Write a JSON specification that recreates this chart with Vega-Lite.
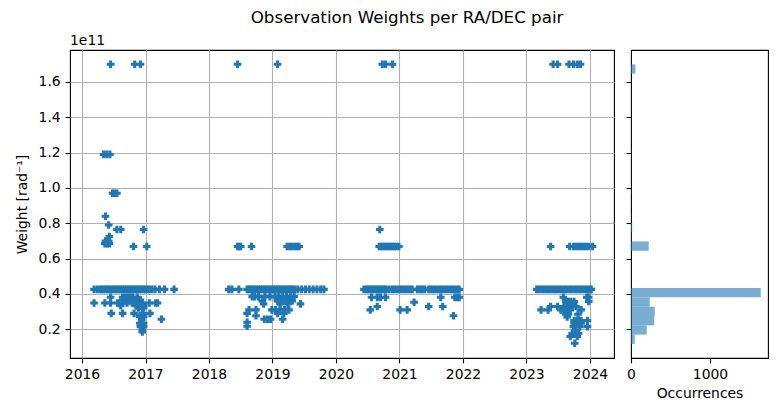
{
  "$schema": "https://vega.github.io/schema/vega-lite/v6.json",
  "background": "white",
  "padding": {"left": 14, "top": 9, "right": 5, "bottom": 5},
  "title": {"text": "Observation Weights per RA/DEC pair", "font": "DejaVu Sans", "fontSize": 16.7, "fontWeight": "normal", "color": "black", "anchor": "middle", "dx": 15.5, "baseline": "alphabetic", "offset": -6},
  "config": {
    "font": "DejaVu Sans",
    "view": {"stroke": "black", "strokeWidth": 1.1},
    "axis": {"labelFont": "DejaVu Sans", "labelFontSize": 13.9, "labelColor": "black", "tickColor": "black", "tickSize": 4.9, "tickWidth": 1.1, "labelPadding": 4.9, "domain": false, "gridColor": "#b0b0b0", "gridWidth": 1.1, "gridOpacity": 1, "titleFont": "DejaVu Sans", "titleFontSize": 13.9, "titleFontWeight": "normal", "titleColor": "black", "labelFlush": false, "labelOverlap": false}
  },
  "bounds": "flush",
  "spacing": 17,
  "datasets": {
    "pts": [
      {"t":2016.45,"w":1.70e11},{"t":2016.83,"w":1.70e11},{"t":2016.92,"w":1.70e11},
      {"t":2016.34,"w":1.19e11},{"t":2016.39,"w":1.19e11},{"t":2016.44,"w":1.19e11},
      {"t":2016.48,"w":0.97e11},{"t":2016.51,"w":0.97e11},{"t":2016.55,"w":0.97e11},
      {"t":2016.37,"w":0.84e11},{"t":2016.42,"w":0.79e11},
      {"t":2016.55,"w":0.765e11},{"t":2016.61,"w":0.765e11},{"t":2016.97,"w":0.765e11},
      {"t":2016.43,"w":0.725e11},{"t":2016.37,"w":0.70e11},{"t":2016.42,"w":0.70e11},
      {"t":2016.36,"w":0.685e11},{"t":2016.40,"w":0.685e11},{"t":2016.43,"w":0.685e11},
      {"t":2016.81,"w":0.669e11},{"t":2017.02,"w":0.669e11},
      {"t":2016.19,"w":0.426e11},{"t":2016.24,"w":0.426e11},{"t":2016.28,"w":0.426e11},{"t":2016.31,"w":0.426e11},{"t":2016.34,"w":0.426e11},{"t":2016.37,"w":0.426e11},{"t":2016.40,"w":0.426e11},{"t":2016.43,"w":0.426e11},{"t":2016.46,"w":0.426e11},{"t":2016.49,"w":0.426e11},{"t":2016.52,"w":0.426e11},{"t":2016.55,"w":0.426e11},{"t":2016.58,"w":0.426e11},{"t":2016.61,"w":0.426e11},{"t":2016.64,"w":0.426e11},{"t":2016.67,"w":0.426e11},{"t":2016.70,"w":0.426e11},{"t":2016.73,"w":0.426e11},{"t":2016.76,"w":0.426e11},{"t":2016.79,"w":0.426e11},{"t":2016.82,"w":0.426e11},{"t":2016.85,"w":0.426e11},{"t":2016.88,"w":0.426e11},{"t":2016.91,"w":0.426e11},{"t":2016.94,"w":0.426e11},{"t":2016.97,"w":0.426e11},{"t":2017.00,"w":0.426e11},{"t":2017.03,"w":0.426e11},{"t":2017.06,"w":0.426e11},{"t":2017.10,"w":0.426e11},{"t":2017.15,"w":0.426e11},{"t":2017.22,"w":0.426e11},{"t":2017.30,"w":0.426e11},{"t":2017.45,"w":0.426e11},
      {"t":2016.45,"w":0.381e11},{"t":2016.64,"w":0.381e11},{"t":2016.68,"w":0.381e11},{"t":2016.72,"w":0.381e11},{"t":2016.76,"w":0.381e11},{"t":2016.80,"w":0.381e11},{"t":2016.87,"w":0.381e11},
      {"t":2016.64,"w":0.366e11},{"t":2016.70,"w":0.366e11},{"t":2016.76,"w":0.366e11},{"t":2016.85,"w":0.366e11},{"t":2016.92,"w":0.366e11},
      {"t":2016.19,"w":0.349e11},{"t":2016.36,"w":0.349e11},{"t":2016.45,"w":0.349e11},{"t":2016.56,"w":0.349e11},{"t":2016.64,"w":0.349e11},{"t":2016.71,"w":0.349e11},{"t":2016.79,"w":0.349e11},{"t":2016.87,"w":0.349e11},{"t":2016.95,"w":0.349e11},{"t":2017.06,"w":0.349e11},{"t":2017.16,"w":0.349e11},{"t":2017.19,"w":0.349e11},
      {"t":2016.61,"w":0.334e11},{"t":2016.85,"w":0.334e11},{"t":2016.92,"w":0.334e11},{"t":2016.97,"w":0.334e11},
      {"t":2016.89,"w":0.321e11},{"t":2016.97,"w":0.321e11},
      {"t":2016.46,"w":0.29e11},{"t":2016.64,"w":0.29e11},{"t":2016.82,"w":0.29e11},{"t":2016.95,"w":0.29e11},{"t":2017.07,"w":0.29e11},
      {"t":2016.91,"w":0.272e11},{"t":2016.97,"w":0.272e11},
      {"t":2017.25,"w":0.257e11},{"t":2016.94,"w":0.257e11},
      {"t":2016.91,"w":0.234e11},{"t":2016.94,"w":0.234e11},{"t":2016.97,"w":0.234e11},
      {"t":2016.92,"w":0.215e11},{"t":2016.97,"w":0.215e11},
      {"t":2016.95,"w":0.196e11},{"t":2016.95,"w":0.185e11},
      {"t":2018.45,"w":1.70e11},{"t":2019.08,"w":1.70e11},
      {"t":2018.45,"w":0.669e11},{"t":2018.47,"w":0.669e11},{"t":2018.50,"w":0.669e11},{"t":2018.67,"w":0.669e11},{"t":2019.23,"w":0.669e11},{"t":2019.27,"w":0.669e11},{"t":2019.31,"w":0.669e11},{"t":2019.35,"w":0.669e11},{"t":2019.39,"w":0.669e11},{"t":2019.42,"w":0.669e11},
      {"t":2018.31,"w":0.426e11},{"t":2018.36,"w":0.426e11},{"t":2018.47,"w":0.426e11},{"t":2018.60,"w":0.426e11},{"t":2018.63,"w":0.426e11},{"t":2018.66,"w":0.426e11},{"t":2018.69,"w":0.426e11},{"t":2018.72,"w":0.426e11},{"t":2018.75,"w":0.426e11},{"t":2018.78,"w":0.426e11},{"t":2018.81,"w":0.426e11},{"t":2018.84,"w":0.426e11},{"t":2018.87,"w":0.426e11},{"t":2018.90,"w":0.426e11},{"t":2018.93,"w":0.426e11},{"t":2018.96,"w":0.426e11},{"t":2018.99,"w":0.426e11},{"t":2019.02,"w":0.426e11},{"t":2019.05,"w":0.426e11},{"t":2019.08,"w":0.426e11},{"t":2019.11,"w":0.426e11},{"t":2019.14,"w":0.426e11},{"t":2019.17,"w":0.426e11},{"t":2019.20,"w":0.426e11},{"t":2019.23,"w":0.426e11},{"t":2019.26,"w":0.426e11},{"t":2019.29,"w":0.426e11},{"t":2019.32,"w":0.426e11},{"t":2019.35,"w":0.426e11},{"t":2019.40,"w":0.426e11},{"t":2019.46,"w":0.426e11},{"t":2019.52,"w":0.426e11},{"t":2019.58,"w":0.426e11},{"t":2019.64,"w":0.426e11},{"t":2019.70,"w":0.426e11},{"t":2019.76,"w":0.426e11},{"t":2019.81,"w":0.426e11},
      {"t":2018.68,"w":0.385e11},{"t":2018.72,"w":0.385e11},{"t":2018.78,"w":0.385e11},{"t":2018.88,"w":0.385e11},{"t":2018.96,"w":0.385e11},{"t":2019.04,"w":0.385e11},{"t":2019.10,"w":0.385e11},{"t":2019.16,"w":0.385e11},{"t":2019.22,"w":0.385e11},{"t":2019.28,"w":0.385e11},{"t":2019.34,"w":0.385e11},
      {"t":2018.84,"w":0.36e11},{"t":2019.08,"w":0.36e11},{"t":2019.14,"w":0.36e11},{"t":2019.20,"w":0.36e11},{"t":2019.26,"w":0.36e11},{"t":2019.31,"w":0.36e11},
      {"t":2018.86,"w":0.344e11},{"t":2019.12,"w":0.344e11},{"t":2019.24,"w":0.344e11},{"t":2019.44,"w":0.344e11},
      {"t":2018.63,"w":0.31e11},{"t":2018.74,"w":0.31e11},{"t":2018.99,"w":0.31e11},{"t":2019.05,"w":0.31e11},{"t":2019.12,"w":0.31e11},{"t":2019.19,"w":0.31e11},{"t":2019.26,"w":0.31e11},
      {"t":2018.60,"w":0.29e11},{"t":2019.08,"w":0.29e11},{"t":2019.18,"w":0.29e11},
      {"t":2018.74,"w":0.277e11},
      {"t":2018.87,"w":0.257e11},{"t":2018.92,"w":0.257e11},{"t":2018.97,"w":0.257e11},{"t":2019.16,"w":0.257e11},
      {"t":2018.60,"w":0.24e11},{"t":2018.60,"w":0.217e11},
      {"t":2020.73,"w":1.70e11},{"t":2020.78,"w":1.70e11},{"t":2020.89,"w":1.70e11},
      {"t":2020.69,"w":0.765e11},
      {"t":2020.68,"w":0.669e11},{"t":2020.71,"w":0.669e11},{"t":2020.74,"w":0.669e11},{"t":2020.77,"w":0.669e11},{"t":2020.80,"w":0.669e11},{"t":2020.83,"w":0.669e11},{"t":2020.86,"w":0.669e11},{"t":2020.89,"w":0.669e11},{"t":2020.92,"w":0.669e11},{"t":2020.95,"w":0.669e11},{"t":2020.99,"w":0.669e11},
      {"t":2020.44,"w":0.426e11},{"t":2020.48,"w":0.426e11},{"t":2020.51,"w":0.426e11},{"t":2020.54,"w":0.426e11},{"t":2020.57,"w":0.426e11},{"t":2020.60,"w":0.426e11},{"t":2020.63,"w":0.426e11},{"t":2020.66,"w":0.426e11},{"t":2020.69,"w":0.426e11},{"t":2020.72,"w":0.426e11},{"t":2020.75,"w":0.426e11},{"t":2020.78,"w":0.426e11},{"t":2020.83,"w":0.426e11},{"t":2020.88,"w":0.426e11},{"t":2020.92,"w":0.426e11},{"t":2020.96,"w":0.426e11},{"t":2021.00,"w":0.426e11},{"t":2021.04,"w":0.426e11},{"t":2021.08,"w":0.426e11},{"t":2021.12,"w":0.426e11},{"t":2021.16,"w":0.426e11},{"t":2021.20,"w":0.426e11},{"t":2021.28,"w":0.426e11},{"t":2021.32,"w":0.426e11},{"t":2021.36,"w":0.426e11},{"t":2021.40,"w":0.426e11},{"t":2021.46,"w":0.426e11},{"t":2021.50,"w":0.426e11},{"t":2021.54,"w":0.426e11},{"t":2021.58,"w":0.426e11},{"t":2021.62,"w":0.426e11},{"t":2021.66,"w":0.426e11},{"t":2021.70,"w":0.426e11},{"t":2021.74,"w":0.426e11},{"t":2021.78,"w":0.426e11},{"t":2021.82,"w":0.426e11},{"t":2021.86,"w":0.426e11},{"t":2021.90,"w":0.426e11},{"t":2021.94,"w":0.426e11},
      {"t":2020.56,"w":0.381e11},{"t":2020.65,"w":0.381e11},{"t":2020.70,"w":0.381e11},{"t":2020.78,"w":0.381e11},{"t":2021.65,"w":0.381e11},{"t":2021.87,"w":0.381e11},{"t":2021.91,"w":0.381e11},{"t":2021.94,"w":0.381e11},
      {"t":2021.23,"w":0.353e11},
      {"t":2020.65,"w":0.329e11},{"t":2021.46,"w":0.329e11},{"t":2021.68,"w":0.329e11},
      {"t":2020.54,"w":0.31e11},{"t":2021.01,"w":0.31e11},{"t":2021.12,"w":0.31e11},
      {"t":2021.85,"w":0.277e11},
      {"t":2023.42,"w":1.70e11},{"t":2023.49,"w":1.70e11},{"t":2023.67,"w":1.70e11},{"t":2023.74,"w":1.70e11},{"t":2023.80,"w":1.70e11},{"t":2023.85,"w":1.70e11},
      {"t":2023.38,"w":0.669e11},{"t":2023.68,"w":0.669e11},{"t":2023.74,"w":0.669e11},{"t":2023.78,"w":0.669e11},{"t":2023.82,"w":0.669e11},{"t":2023.86,"w":0.669e11},{"t":2023.90,"w":0.669e11},{"t":2023.94,"w":0.669e11},{"t":2023.98,"w":0.669e11},{"t":2024.04,"w":0.669e11},
      {"t":2023.16,"w":0.426e11},{"t":2023.20,"w":0.426e11},{"t":2023.24,"w":0.426e11},{"t":2023.28,"w":0.426e11},{"t":2023.32,"w":0.426e11},{"t":2023.36,"w":0.426e11},{"t":2023.40,"w":0.426e11},{"t":2023.44,"w":0.426e11},{"t":2023.48,"w":0.426e11},{"t":2023.52,"w":0.426e11},{"t":2023.56,"w":0.426e11},{"t":2023.60,"w":0.426e11},{"t":2023.64,"w":0.426e11},{"t":2023.68,"w":0.426e11},{"t":2023.72,"w":0.426e11},{"t":2023.76,"w":0.426e11},{"t":2023.80,"w":0.426e11},{"t":2023.84,"w":0.426e11},{"t":2023.88,"w":0.426e11},{"t":2023.92,"w":0.426e11},{"t":2023.96,"w":0.426e11},{"t":2024.00,"w":0.426e11},{"t":2024.02,"w":0.426e11},
      {"t":2023.58,"w":0.381e11},{"t":2023.95,"w":0.381e11},{"t":2023.98,"w":0.381e11},
      {"t":2023.62,"w":0.357e11},{"t":2023.66,"w":0.357e11},{"t":2023.70,"w":0.357e11},{"t":2023.75,"w":0.357e11},{"t":2023.98,"w":0.357e11},
      {"t":2023.38,"w":0.329e11},{"t":2023.49,"w":0.329e11},{"t":2023.59,"w":0.329e11},{"t":2023.63,"w":0.329e11},{"t":2023.68,"w":0.329e11},{"t":2023.73,"w":0.329e11},{"t":2023.78,"w":0.329e11},
      {"t":2023.23,"w":0.31e11},{"t":2023.34,"w":0.31e11},{"t":2023.54,"w":0.31e11},{"t":2023.59,"w":0.31e11},{"t":2023.64,"w":0.31e11},{"t":2023.69,"w":0.31e11},{"t":2023.86,"w":0.31e11},
      {"t":2023.62,"w":0.285e11},{"t":2023.66,"w":0.285e11},{"t":2023.81,"w":0.285e11},
      {"t":2023.64,"w":0.27e11},
      {"t":2023.75,"w":0.25e11},{"t":2023.79,"w":0.25e11},{"t":2023.83,"w":0.25e11},{"t":2023.86,"w":0.25e11},{"t":2023.96,"w":0.25e11},
      {"t":2023.75,"w":0.234e11},{"t":2023.80,"w":0.234e11},{"t":2023.86,"w":0.234e11},
      {"t":2023.74,"w":0.215e11},{"t":2023.78,"w":0.215e11},{"t":2023.84,"w":0.215e11},{"t":2023.96,"w":0.215e11},
      {"t":2023.72,"w":0.178e11},{"t":2023.77,"w":0.178e11},{"t":2023.82,"w":0.178e11},
      {"t":2023.69,"w":0.159e11},{"t":2023.80,"w":0.159e11},
      {"t":2023.76,"w":0.121e11}
    ],
    "hist": [
      {"lo":1.170e10,"hi":1.698e10,"n":47},
      {"lo":1.698e10,"hi":2.225e10,"n":199},
      {"lo":2.225e10,"hi":2.753e10,"n":295},
      {"lo":2.753e10,"hi":3.281e10,"n":300},
      {"lo":3.281e10,"hi":3.808e10,"n":237},
      {"lo":3.808e10,"hi":4.336e10,"n":1642},
      {"lo":6.447e10,"hi":6.975e10,"n":224},
      {"lo":6.975e10,"hi":7.502e10,"n":5},
      {"lo":7.502e10,"hi":8.030e10,"n":15},
      {"lo":8.030e10,"hi":8.558e10,"n":2},
      {"lo":9.613e10,"hi":10.141e10,"n":4},
      {"lo":11.724e10,"hi":12.252e10,"n":3},
      {"lo":16.473e10,"hi":17.000e10,"n":56}
    ]
  },
  "hconcat": [
    {
      "width": 544,
      "height": 308,
      "title": {"text": "1e11", "anchor": "start", "frame": "group", "font": "DejaVu Sans", "fontSize": 13.9, "fontWeight": "normal", "color": "black", "baseline": "alphabetic", "offset": -9},
      "data": {"name": "pts"},
      "mark": {"type": "point", "shape": "cross", "filled": true, "size": 58, "color": "#1f77b4", "opacity": 1, "strokeWidth": 0},
      "encoding": {
        "x": {"field": "t", "type": "quantitative", "scale": {"domain": [2015.811, 2024.378], "nice": false, "zero": false},
              "axis": {"title": null, "values": [2016, 2017, 2018, 2019, 2020, 2021, 2022, 2023, 2024], "format": "d", "grid": true}},
        "y": {"field": "w", "type": "quantitative", "scale": {"domain": [3.75e9, 1.781e11], "nice": false, "zero": false},
              "axis": {"title": "Weight [rad⁻¹]", "values": [2e10, 4e10, 6e10, 8e10, 1e11, 1.2e11, 1.4e11, 1.6e11], "labelExpr": "format(datum.value / 1e11, '.1f')", "grid": true, "titlePadding": 9}}
      }
    },
    {
      "width": 137,
      "height": 308,
      "data": {"name": "hist"},
      "mark": {"type": "rect", "color": "#1f77b4", "opacity": 0.6},
      "encoding": {
        "x": {"field": "n", "type": "quantitative", "scale": {"domain": [0, 1734], "nice": false},
              "axis": {"title": "Occurrences", "values": [0, 1000], "format": "d", "grid": false, "titlePadding": 5}},
        "x2": {"datum": 0},
        "y": {"field": "lo", "type": "quantitative", "scale": {"domain": [3.75e9, 1.781e11], "nice": false, "zero": false},
              "axis": {"title": null, "values": [2e10, 4e10, 6e10, 8e10, 1e11, 1.2e11, 1.4e11, 1.6e11], "labels": false, "grid": false}},
        "y2": {"field": "hi"}
      }
    }
  ]
}
